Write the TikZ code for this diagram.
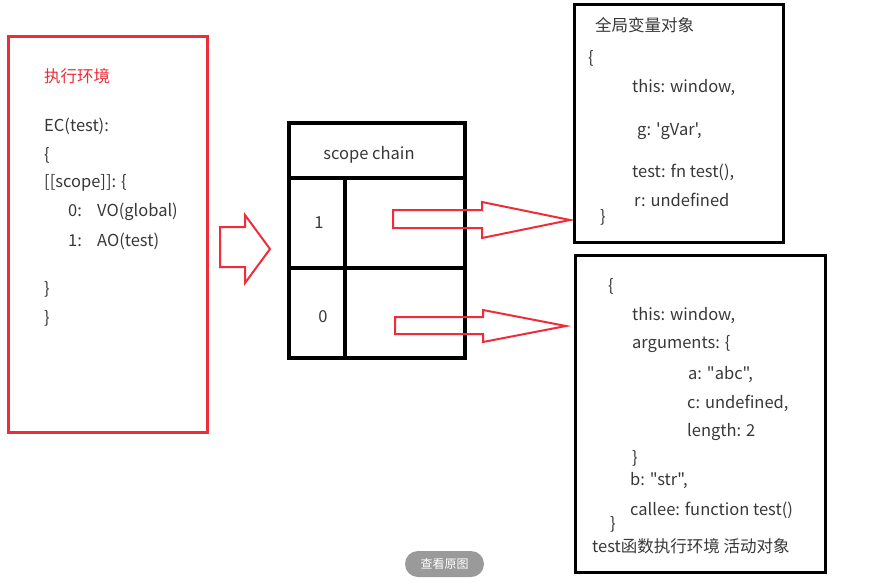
\documentclass[tikz,border=0pt]{standalone}
\usepackage{fontspec}
\newfontfamily\cjkfont{Noto Sans CJK SC}
\usetikzlibrary{positioning}
\definecolor{boxred}{HTML}{EE2D3A}
\definecolor{txtgray}{HTML}{383838}
\definecolor{btngray}{HTML}{9A9A9A}
\tikzset{
  code/.style   = {anchor=west, inner sep=0pt, text=txtgray, font=\cjkfont\fontsize{16.5}{18}\selectfont},
  redframe/.style = {draw=boxred, line width=3pt},
  blackframe/.style = {draw=black, line width=3pt},
  tableline/.style = {draw=black, line width=4.5pt},
  hollow/.style = {draw=boxred, line width=2pt, line join=miter},
}
\begin{document}
\begin{tikzpicture}[x=1pt,y=-1pt]
    \useasboundingbox (0,0) rectangle (871,582);

    % execution context
    \draw[redframe] (8,36) rectangle (207,432);
    \node[code, text=boxred] (ectitle) at (44,76) {执行环境};
    \node[code] (ec) at (44,126) {EC(test):};
    \node[code] (ecopen) at (44,155) {\{};
    \node[code] (scope) at (44,183) {[[scope]]: \{};
    \node[code] (s0) at (68,212) {\makebox[29pt][l]{0:}VO(global)};
    \node[code] (s1) at (68,241) {\makebox[29pt][l]{1:}AO(test)};
    \node[code] (scclose) at (44,289) {\}};
    \node[code] (ecclose) at (44,318) {\}};

    % big hollow arrow
    \draw[hollow] (220,227) -- (245,227) -- (245,215) -- (270,249) -- (245,283)
        -- (245,267) -- (220,267) -- cycle;

    % scope chain table
    \draw[tableline] (289,123) rectangle (465,358);
    \draw[tableline] (289,178) -- (465,178);
    \draw[tableline] (289,268) -- (465,268);
    \draw[tableline] (345,178) -- (345,358);
    \node[code, anchor=center] (chain) at (369,155) {scope chain};
    \node[code, anchor=center] (one) at (319,223) {1};
    \node[code, anchor=center] (zero) at (323,317) {0};

    % arrows to the objects
    \draw[hollow] (393,210) -- (482,210) -- (482,202) -- (570,220) -- (482,238)
        -- (482,228) -- (393,228) -- cycle;
    \draw[hollow] (395,317) -- (483,317) -- (483,310) -- (566,326) -- (483,342)
        -- (483,334) -- (395,334) -- cycle;

    % global object
    \draw[blackframe] (574,4) rectangle (783,242);
    \node[code] (gtitle) at (595,25) {全局变量对象};
    \node[code] (gopen) at (588,58) {\{};
    \node[code] (gthis) at (632,87) {this: window,};
    \node[code] (gvar) at (637,131) {g: 'gVar',};
    \node[code] (gtest) at (632,172) {test: fn test(),};
    \node[code] (gr) at (634,200) {r: undefined};
    \node[code] (gclose) at (600,217) {\}};

    % activation object
    \draw[blackframe] (575,255) rectangle (825,572);
    \node[code] (aopen) at (608,286) {\{};
    \node[code] (athis) at (632,315) {this: window,};
    \node[code] (aargs) at (632,344) {arguments: \{};
    \node[code] (aa) at (688,374) {a: "abc",};
    \node[code] (ac) at (687,403) {c: undefined,};
    \node[code] (alen) at (687,432) {length: 2};
    \node[code] (aargsclose) at (632,458) {\}};
    \node[code] (ab) at (630,480) {b: "str",};
    \node[code] (acallee) at (630,510) {callee: function test()};
    \node[code] (aclose) at (610,524) {\}};
    \node[code] (atitle) at (592,546) {test函数执行环境 活动对象};

    % view button
    \node[fill=btngray, rounded corners=13pt, minimum width=79pt, minimum height=26pt,
          text=white, font=\cjkfont\fontsize{12}{14}\selectfont] (btn) at (444.5,564) {查看原图};
\end{tikzpicture}
\end{document}
